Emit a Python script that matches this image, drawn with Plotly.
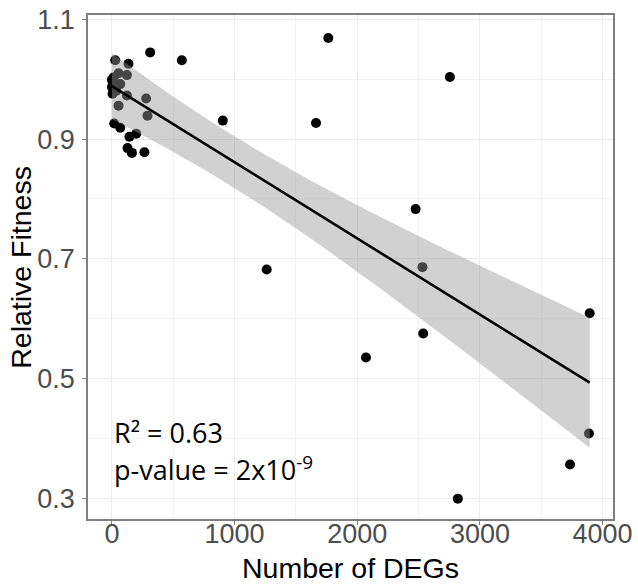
import numpy as np
import plotly.graph_objects as go

# Number of differentially expressed genes and relative fitness per strain
degs = [27, 135, 54, 13, 122, 68, 0, 0, 5, 35, 122, 54, 279, 290, 19, 68,
        143, 198, 127, 163, 265, 312, 570, 904, 1664, 1764, 2755, 2476,
        2532, 1262, 2538, 2071, 3895, 3889, 3735, 2820]
fitness = [1.032, 1.026, 1.010, 1.003, 1.007, 0.992, 0.999, 0.987, 0.976,
           0.981, 0.973, 0.956, 0.968, 0.939, 0.926, 0.919, 0.904, 0.909,
           0.885, 0.877, 0.878, 1.045, 1.032, 0.931, 0.927, 1.069, 1.004,
           0.783, 0.686, 0.682, 0.575, 0.535, 0.609, 0.408, 0.356, 0.299]

x_ticks = [0, 1000, 2000, 3000, 4000]
y_ticks = [0.3, 0.5, 0.7, 0.9, 1.1]
r2_label = "R² = 0.63"
p_label = "p-value = 2x10<sup>-9</sup>"

# Ordinary least squares fit with a 95% confidence band (as geom_smooth(method="lm"))
x = np.asarray(degs, dtype=float)
y = np.asarray(fitness, dtype=float)
n = len(x)
slope, intercept = np.polyfit(x, y, 1)
resid = y - (intercept + slope * x)
s = np.sqrt(np.sum(resid ** 2) / (n - 2))
sxx = np.sum((x - x.mean()) ** 2)
xs = np.linspace(x.min(), x.max(), 80)
fit = intercept + slope * xs
se = s * np.sqrt(1.0 / n + (xs - x.mean()) ** 2 / sxx)
t_crit = 2.0345  # t(0.975, df = 34)
upper = fit + t_crit * se
lower = fit - t_crit * se

fig = go.Figure()
fig.add_trace(go.Scatter(
    x=degs, y=fitness, mode="markers",
    marker=dict(color="black", size=10, line=dict(width=0)),
    showlegend=False, hoverinfo="x+y"))
fig.add_trace(go.Scatter(
    x=np.concatenate([xs, xs[::-1]]), y=np.concatenate([upper, lower[::-1]]),
    mode="lines", fill="toself", fillcolor="rgba(153,153,153,0.45)",
    line=dict(width=0), showlegend=False, hoverinfo="skip"))
fig.add_trace(go.Scatter(
    x=xs, y=fit, mode="lines", line=dict(color="black", width=2.6),
    showlegend=False, hoverinfo="skip"))

stat_font = dict(family="Open Sans", size=27, color="black")
fig.add_annotation(x=0, y=0.41, xref="x", yref="y", text=r2_label,
                   showarrow=False, xanchor="left", yanchor="middle",
                   font=stat_font)
fig.add_annotation(x=0, y=0.35, xref="x", yref="y", text=p_label,
                   showarrow=False, xanchor="left", yanchor="middle",
                   font=stat_font)

# Axis titles
title_font = dict(family="Liberation Sans, Arial", size=28.5, color="black")
fig.add_annotation(x=0.5, y=-0.097, xref="paper", yref="paper",
                   text="Number of DEGs", showarrow=False,
                   xanchor="center", yanchor="middle", font=title_font)
fig.add_annotation(x=-0.128, y=0.5, xref="paper", yref="paper",
                   text="Relative Fitness", showarrow=False, textangle=-90,
                   xanchor="center", yanchor="middle", font=title_font)

axis_common = dict(
    showline=True, linecolor="#7f7f7f", linewidth=1.5, mirror=True,
    ticks="outside", ticklen=4, tickcolor="#7f7f7f", tickwidth=1.2,
    showgrid=True, gridcolor="#ebebeb", gridwidth=1, zeroline=False,
    automargin=False,
    tickfont=dict(family="Liberation Sans, Arial", size=27, color="#4d4d4d"),
)

fig.update_xaxes(
    range=[-195, 4085], tickvals=x_ticks, ticklabelstandoff=-14,
    minor=dict(dtick=500, tick0=0, showgrid=True, gridcolor="#f3f3f3", ticks=""),
    **axis_common)
fig.update_yaxes(
    range=[0.265, 1.1075], tickvals=y_ticks, tickformat=".1f",
    ticklabelstandoff=2,
    minor=dict(dtick=0.1, tick0=0.3, showgrid=True, gridcolor="#f3f3f3", ticks=""),
    **axis_common)

fig.update_layout(
    width=638, height=584,
    margin=dict(l=88, r=25, t=15, b=65),
    paper_bgcolor="white", plot_bgcolor="white",
)

fig.write_html("out.html")
